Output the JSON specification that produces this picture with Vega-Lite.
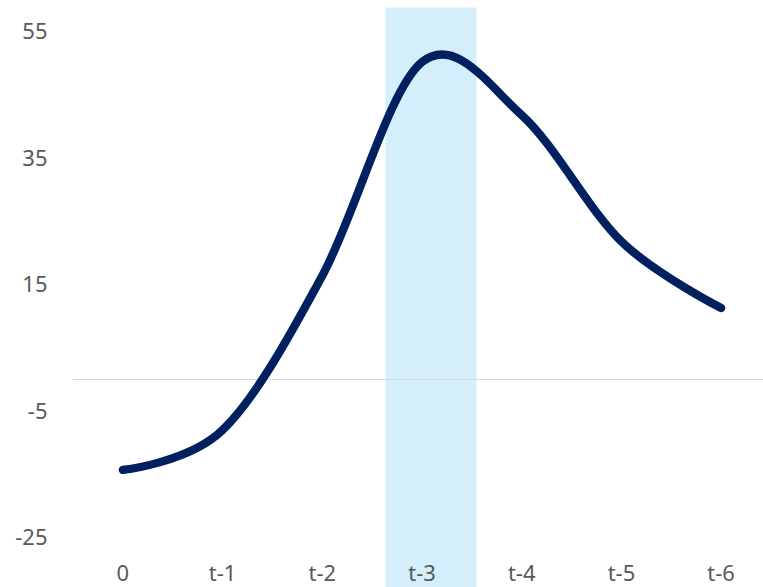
{
  "$schema": "https://vega.github.io/schema/vega-lite/v6.json",
  "autosize": "none",
  "padding": {"left": 73, "top": 31.6, "right": 0, "bottom": 50},
  "width": 698,
  "height": 506,
  "background": "white",
  "config": {"view": {"stroke": null}, "font": "Noto Sans"},
  "datasets": {
    "series": [
      {"period": "0", "value": -14.3},
      {"period": "t-1", "value": -8.0},
      {"period": "t-2", "value": 16.4},
      {"period": "t-3", "value": 50.2},
      {"period": "t-4", "value": 41.8},
      {"period": "t-5", "value": 21.8},
      {"period": "t-6", "value": 11.3}
    ],
    "highlight": [{"period": "t-3", "top": 58.8, "bottom": -33}]
  },
  "encoding": {
    "x": {
      "field": "period",
      "type": "nominal",
      "sort": null,
      "scale": {"type": "band", "domain": ["0", "t-1", "t-2", "t-3", "t-4", "t-5", "t-6"], "paddingInner": 0, "paddingOuter": 0},
      "axis": {"title": null, "labelAngle": 0, "domain": false, "ticks": false, "grid": false, "labelFontSize": 22, "labelColor": "#595959", "labelPadding": 26, "labelFont": "Noto Sans"}
    }
  },
  "layer": [
    {
      "data": {"name": "highlight"},
      "mark": {"type": "rect", "color": "#D4EFFB", "width": {"band": 0.913}, "xOffset": 9, "clip": false},
      "encoding": {
        "y": {
          "field": "top",
          "type": "quantitative",
          "scale": {"domain": [-25, 55], "nice": false, "zero": false},
          "axis": {"title": null, "values": [-25, -5, 15, 35, 55], "labelExpr": "'' + datum.value", "domain": false, "ticks": false, "grid": false, "labelFontSize": 22, "labelColor": "#595959", "labelPadding": 26, "labelFont": "Noto Sans"}
        },
        "y2": {"field": "bottom"}
      }
    },
    {
      "data": {"values": [{"zero": 0}]},
      "mark": {"type": "rule", "color": "#D9D9D9", "strokeWidth": 1},
      "encoding": {"x": null, "y": {"field": "zero", "type": "quantitative"}}
    },
    {
      "data": {"name": "series"},
      "mark": {"type": "line", "color": "#002060", "strokeWidth": 8.3, "interpolate": "cardinal", "strokeCap": "round", "strokeJoin": "round"},
      "encoding": {
        "y": {"field": "value", "type": "quantitative"}
      }
    }
  ]
}
